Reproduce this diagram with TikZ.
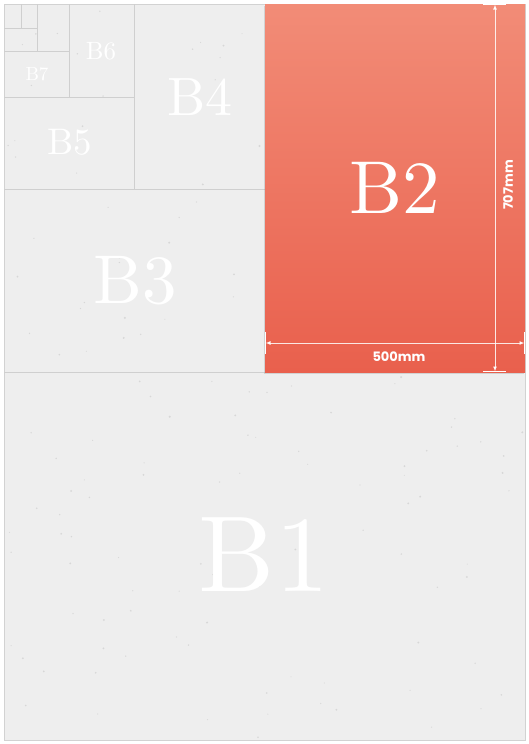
\documentclass[tikz,border=0pt]{standalone}
\usepackage{fontspec}
\newfontfamily\dimfont{Poppins}
\newfontfamily\sizefont[Extension=.otf]{lmroman10-regular}
\usepackage{tikz}
\usetikzlibrary{arrows.meta, shadows}

\definecolor{paperGray}{HTML}{EEEEEE}
\definecolor{edgeGray}{HTML}{D2D2D2}
\definecolor{foldGray}{HTML}{CFCFCF}
\definecolor{speckGray}{HTML}{C8C8C8}
\definecolor{redTop}{HTML}{F28C77}
\definecolor{redBottom}{HTML}{E9604D}

\begin{document}
\begin{tikzpicture}[
    x=1pt, y=-1pt,
    paper/.style={fill=paperGray, draw=edgeGray, line width=1pt, drop shadow={shadow xshift=0pt, shadow yshift=-1pt, opacity=0.15}},
    fold/.style={draw=foldGray, line width=0.8pt},
    sheetB2/.style={top color=redTop, bottom color=redBottom, drop shadow={shadow xshift=-1pt, shadow yshift=-2pt, opacity=0.25}},
    size/.style={text=white, inner sep=0pt},
    dim/.style={draw=white, draw opacity=0.85, line width=0.9pt, {Latex[length=5pt,width=4pt]}-{Latex[length=5pt,width=4pt]}},
    tick/.style={draw=white, line width=1.2pt},
    dimlabel/.style={text=white, inner sep=0pt, font=\dimfont\bfseries\fontsize{13}{13}\selectfont}
]
    \useasboundingbox (0,0) rectangle (529,744);
    \fill[white] (0,0) rectangle (529,744);

    % the B0 sheet, a bit of paper grain, and its folds
    \path[paper] (4,4) rectangle (525,740);
    \pgfmathsetseed{7}
    \foreach \i in {1,...,160}
        \fill[speckGray, opacity=0.6] (6+517*rnd, 6+732*rnd) circle (0.5+0.6*rnd);
    \draw[fold] (4,372) -- (525,372);
    \draw[fold] (4,189) -- (265,189);
    \draw[fold] (134,4) -- (134,189);
    \draw[fold] (4,97) -- (134,97);
    \draw[fold] (69,4) -- (69,97);
    \draw[fold] (4,51) -- (69,51);
    \draw[fold] (37,4) -- (37,51);
    \draw[fold] (4,28) -- (37,28);
    \draw[fold] (21,4) -- (21,28);

    % B2 highlighted
    \coordinate (b2nw) at (265,4);
    \coordinate (b2se) at (525,372);
    \path[sheetB2] (b2nw) rectangle (b2se);

    % size labels
    \node[size, font=\sizefont\fontsize{108}{108}\selectfont] (b1) at (264,555) {B1};
    \node[size, font=\sizefont\fontsize{75}{75}\selectfont] (b2) at (395,188) {B2};
    \node[size, font=\sizefont\fontsize{69}{69}\selectfont] (b3) at (135,281) {B3};
    \node[size, font=\sizefont\fontsize{54}{54}\selectfont] (b4) at (200,97) {B4};
    \node[size, font=\sizefont\fontsize{37}{37}\selectfont] (b5) at (70,142) {B5};
    \node[size, font=\sizefont\fontsize{25}{25}\selectfont] (b6) at (101,51) {B6};
    \node[size, font=\sizefont\fontsize{19}{19}\selectfont] (b7) at (37,74) {B7};

    % width of B2
    \coordinate (wl) at (265.5,343);
    \coordinate (wr) at (524.5,343);
    \draw[tick] (265.5,332) -- (265.5,354);
    \draw[tick] (524.5,332) -- (524.5,354);
    \draw[dim] (wl) -- (wr);
    \node[dimlabel] (width) at (399,357) {500mm};

    % height of B2
    \coordinate (ht) at (495,4.5);
    \coordinate (hb) at (495,371.5);
    \draw[tick] (483,4.5) -- (506,4.5);
    \draw[tick] (483,371.5) -- (506,371.5);
    \draw[dim] (ht) -- (hb);
    \node[dimlabel, rotate=90] (height) at (508,185) {707mm};

\end{tikzpicture}
\end{document}
